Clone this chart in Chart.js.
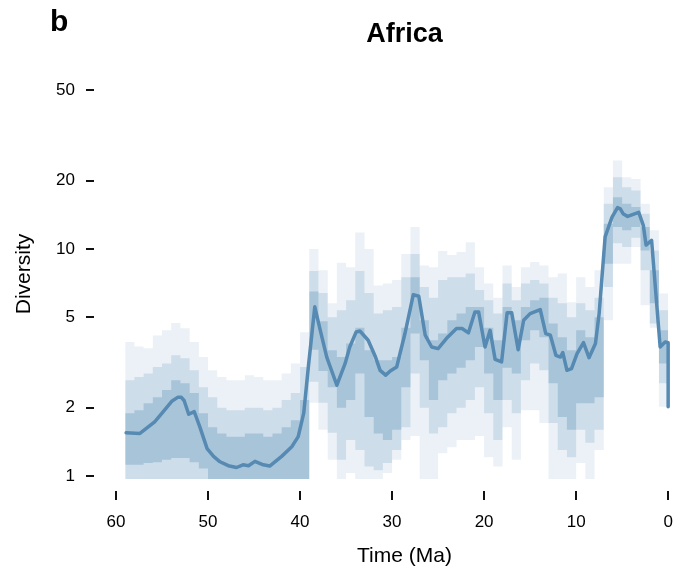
<!DOCTYPE html>
<html>
<head>
<meta charset="utf-8">
<title>Africa diversity</title>
<script src="https://cdn.jsdelivr.net/npm/chart.js@4.4.1/dist/chart.umd.min.js"></script>
<style>
    html, body { margin: 0; padding: 0; background: #fff; }
    #wrap { width: 693px; height: 580px; }
</style>
</head>
<body>
<div id="wrap"><canvas id="africaChart" width="693" height="580"></canvas></div>
<script>
// --- Data ---

// median diversity curve (time in Ma, value)
const lineTimes = [
    58.9, 57.4, 55.8, 55.0, 53.9, 53.3, 52.9, 52.6, 52.1, 51.5,
    50.9, 50.1, 49.4, 48.7, 47.8, 46.9, 46.2, 45.6, 44.9, 44.0,
    43.3, 42.0, 40.9, 40.2, 39.6, 39.1, 38.4, 37.8, 37.1, 36.0,
    35.1, 34.6, 33.9, 33.5, 32.6, 31.8, 31.3, 30.7, 30.2, 29.5,
    28.6, 27.7, 27.1, 26.4, 25.7, 25.0, 24.1, 23.0, 22.4, 21.7,
    21.0, 20.6, 19.9, 19.35, 18.8, 18.1, 17.5, 17.0, 16.3, 15.7,
    15.0, 13.9, 13.3, 12.8, 12.2, 11.7, 11.45, 11.0, 10.5, 9.9,
    9.2, 8.6, 7.9, 7.5, 6.85, 6.1, 5.5, 5.2, 4.9, 4.4,
    3.2, 2.7, 2.4, 1.8, 0.87, 0.33, 0.0, 0.0
];
const lineMedian = [
    1.55, 1.54, 1.73, 1.89, 2.14, 2.22, 2.22, 2.15, 1.87, 1.92,
    1.65, 1.32, 1.22, 1.155, 1.11, 1.09, 1.12, 1.11, 1.16, 1.12,
    1.106, 1.22, 1.345, 1.49, 1.89, 3.02, 5.56, 4.38, 3.34, 2.51,
    3.13, 3.70, 4.31, 4.35, 3.96, 3.34, 2.92, 2.78, 2.90, 3.02,
    4.24, 6.28, 6.19, 4.17, 3.70, 3.64, 4.03, 4.46, 4.46, 4.27,
    5.28, 5.28, 3.70, 4.38, 3.26, 3.18, 5.23, 5.23, 3.60, 4.85,
    5.19, 5.41, 4.24, 4.17, 3.40, 3.34, 3.50, 2.92, 2.97, 3.46,
    3.87, 3.32, 3.83, 5.19, 11.3, 13.8, 15.2, 15.0, 14.3, 13.9,
    14.5, 12.7, 10.4, 10.9, 3.70, 3.89, 3.86, 2.02
];

// 1 Ma bins (value at t holds the bin t -> t-1)
const binTimes = [
    59, 58, 57, 56, 55, 54, 53, 52, 51, 50,
    49, 48, 47, 46, 45, 44, 43, 42, 41, 40,
    39, 38, 37, 36, 35, 34, 33, 32, 31, 30,
    29, 28, 27, 26, 25, 24, 23, 22, 21, 20,
    19, 18, 17, 16, 15, 14, 13, 12, 11, 10,
    9, 8, 7, 6, 5, 4, 3, 2, 1, 0
];
const outerHigh = [
    3.89, 3.72, 3.65, 4.16, 4.38, 4.72, 4.47, 3.89, 3.34, 2.92,
    2.73, 2.64, 2.64, 2.78, 2.73, 2.64, 2.64, 2.83, 3.13, 4.3,
    10.0, 8.05, 5.76, 8.7, 8.3, 11.8, 10.0, 6.9, 7.05, 7.3,
    9.5, 12.5, 8.45, 8.3, 9.8, 9.4, 9.7, 10.7, 8.3, 7.05,
    6.1, 8.45, 6.8, 8.3, 8.75, 8.45, 7.5, 7.8, 5.83, 7.5,
    6.8, 8.05, 18.7, 24.5, 20.7, 20.3, 15.8, 12.1, 6.36, 6.36
];
const outerLow = [
    0.9, 0.9, 0.9, 0.9, 0.9, 0.9, 0.9, 0.9, 0.9, 0.9,
    0.9, 0.9, 0.9, 0.9, 0.9, 0.9, 0.9, 0.9, 0.9, 0.9,
    2.1, 1.6, 1.18, 0.9, 1.03, 0.9, 0.9, 0.9, 1.03, 1.18,
    1.44, 1.5, 0.9, 0.9, 1.26, 1.34, 1.44, 1.44, 1.5, 1.21,
    1.1, 1.64, 1.18, 1.95, 1.95, 1.71, 0.9, 0.9, 0.9, 1.14,
    0.9, 1.3, 4.85, 8.6, 8.6, 10.2, 5.65, 4.5, 2.02, 2.02
];
const midHigh = [
    2.64, 2.73, 2.83, 3.02, 3.13, 3.4, 3.3, 2.92, 2.46, 2.22,
    2.0, 1.95, 1.95, 2.0, 2.0, 1.95, 2.0, 2.16, 2.32, 3.02,
    8.0, 6.4, 5.0, 5.37, 5.94, 8.0, 6.4, 5.2, 5.37, 5.55,
    7.5, 9.5, 6.8, 6.1, 7.3, 7.5, 7.5, 7.8, 6.6, 5.94,
    5.2, 7.05, 5.94, 7.05, 7.3, 7.05, 6.1, 5.76, 5.0, 5.76,
    5.37, 6.1, 15.8, 20.7, 18.7, 18.1, 14.3, 9.85, 5.37, 5.37
];
const midLow = [
    0.9, 0.9, 0.9, 0.9, 0.9, 0.9, 0.9, 0.9, 0.9, 0.9,
    0.9, 0.9, 0.9, 0.9, 0.9, 0.9, 0.9, 0.9, 0.9, 0.9,
    2.6, 2.1, 1.55, 1.18, 1.44, 1.3, 1.1, 1.06, 1.14, 1.3,
    1.64, 2.83, 2.0, 1.54, 1.64, 1.89, 2.0, 2.16, 2.46, 1.89,
    1.44, 2.16, 1.89, 2.64, 3.13, 2.92, 1.71, 1.3, 1.21, 1.6,
    1.4, 1.6, 6.8, 10.6, 10.2, 11.2, 8.05, 4.7, 2.56, 2.56
];
const innerHigh = [
    1.89, 1.95, 2.09, 2.22, 2.39, 2.64, 2.56, 2.32, 1.89, 1.64,
    1.54, 1.49, 1.49, 1.54, 1.54, 1.49, 1.54, 1.64, 1.76, 2.16,
    6.5, 4.8, 3.58, 3.34, 3.83, 4.5, 3.58, 3.23, 3.23, 3.34,
    4.5, 7.5, 4.85, 3.96, 4.24, 4.85, 5.2, 5.55, 5.55, 4.5,
    3.96, 5.55, 4.85, 5.55, 5.94, 6.1, 4.7, 4.08, 3.58, 4.38,
    4.08, 5.0, 12.9, 16.9, 15.8, 15.3, 12.5, 8.05, 4.38, 4.38
];
const innerLow = [
    1.12, 1.12, 1.14, 1.15, 1.18, 1.2, 1.2, 1.15, 1.08, 0.9,
    0.9, 0.9, 0.9, 0.9, 0.9, 0.9, 0.9, 0.9, 0.9, 0.9,
    3.6, 2.9, 2.46, 2.0, 2.16, 2.83, 1.82, 1.54, 1.44, 1.6,
    2.46, 4.24, 3.23, 2.16, 2.64, 2.83, 3.0, 3.23, 3.7, 2.83,
    2.16, 3.0, 2.83, 3.96, 4.38, 4.08, 2.56, 1.82, 1.6, 2.09,
    2.09, 2.22, 8.6, 12.5, 12.1, 12.5, 9.85, 5.76, 3.13, 3.13
];

const xTicks = [60, 50, 40, 30, 20, 10, 0];
const yTicks = [1, 2, 5, 10, 20, 50];

(function () {
    'use strict';

    var FONT = "'Liberation Sans', Arial, Helvetica, sans-serif";
    var lineColor = 'rgb(86, 138, 178)';

    function points(times, values) {
        return times.map(function (t, i) { return { x: t, y: values[i] }; });
    }

    function bandEdge(values, fill, alpha) {
        return {
            data: points(binTimes, values),
            stepped: 'before',
            borderWidth: 0,
            pointRadius: 0,
            fill: fill,
            backgroundColor: 'rgba(62, 122, 170, ' + alpha + ')'
        };
    }

    // --- Extra drawing: offset tick marks, panel letter, title ---
    var decorations = {
        id: 'decorations',
        afterDraw: function (chart) {
            var ctx = chart.ctx;
            var xs = chart.scales.x;
            var ys = chart.scales.y;
            ctx.save();
            ctx.strokeStyle = '#111';
            ctx.lineWidth = 2;
            yTicks.forEach(function (v) {
                var y = Math.round(ys.getPixelForValue(v));
                ctx.beginPath();
                ctx.moveTo(86, y);
                ctx.lineTo(94, y);
                ctx.stroke();
            });
            xTicks.forEach(function (v) {
                var x = Math.round(xs.getPixelForValue(v));
                ctx.beginPath();
                ctx.moveTo(x, 491);
                ctx.lineTo(x, 500);
                ctx.stroke();
            });

            ctx.fillStyle = '#000';
            ctx.textBaseline = 'alphabetic';
            ctx.textAlign = 'left';
            ctx.font = 'bold 30px ' + FONT;
            ctx.fillText('b', 50, 31);
            ctx.textAlign = 'center';
            ctx.font = 'bold 27px ' + FONT;
            ctx.fillText('Africa', (chart.chartArea.left + chart.chartArea.right) / 2, 42);
            ctx.restore();
        }
    };

    var canvas = document.getElementById('africaChart');
    new Chart(canvas, {
        type: 'line',
        data: {
            datasets: [
                {
                    data: points(lineTimes, lineMedian),
                    borderColor: lineColor,
                    borderWidth: 3.5,
                    borderJoinStyle: 'round',
                    borderCapStyle: 'round',
                    pointRadius: 0,
                    tension: 0,
                    fill: false
                },
                bandEdge(outerLow, false, 0.10),
                bandEdge(outerHigh, '-1', 0.10),
                bandEdge(midLow, false, 0.17),
                bandEdge(midHigh, '-1', 0.17),
                bandEdge(innerLow, false, 0.26),
                bandEdge(innerHigh, '-1', 0.26)
            ]
        },
        options: {
            responsive: false,
            animation: false,
            devicePixelRatio: 1,
            layout: { padding: { top: 69, left: 0, right: 0, bottom: 0 } },
            plugins: {
                legend: { display: false },
                tooltip: { enabled: false },
                title: { display: false }
            },
            scales: {
                x: {
                    type: 'linear',
                    reverse: true,
                    min: -2.7,
                    max: 60,
                    grid: { display: false, drawTicks: false },
                    border: { display: false },
                    ticks: {
                        color: '#000',
                        font: { family: FONT, size: 17 },
                        padding: 33,
                        maxRotation: 0,
                        autoSkip: false,
                        callback: function (value) { return String(value); }
                    },
                    afterBuildTicks: function (scale) {
                        scale.ticks = xTicks.map(function (v) { return { value: v }; });
                    },
                    afterFit: function (scale) {
                        scale.height = 101;
                        scale.paddingLeft = 0;
                        scale.paddingRight = 0;
                    },
                    title: {
                        display: true,
                        text: 'Time (Ma)',
                        color: '#000',
                        font: { family: FONT, size: 21 },
                        padding: { top: 0, bottom: 11 }
                    }
                },
                y: {
                    type: 'logarithmic',
                    min: 0.97,
                    max: 62,
                    grid: { display: false, drawTicks: false },
                    border: { display: false },
                    ticks: {
                        color: '#000',
                        font: { family: FONT, size: 17 },
                        padding: 41,
                        autoSkip: false,
                        callback: function (value) { return String(value); }
                    },
                    afterBuildTicks: function (scale) {
                        scale.ticks = yTicks.map(function (v) { return { value: v }; });
                    },
                    afterFit: function (scale) {
                        scale.width = 116;
                        scale.paddingTop = 0;
                        scale.paddingBottom = 0;
                    },
                    title: {
                        display: true,
                        text: 'Diversity',
                        color: '#000',
                        font: { family: FONT, size: 21 },
                        padding: { top: 12, bottom: 0 }
                    }
                }
            }
        },
        plugins: [decorations]
    });
})();
</script>
</body>
</html>
